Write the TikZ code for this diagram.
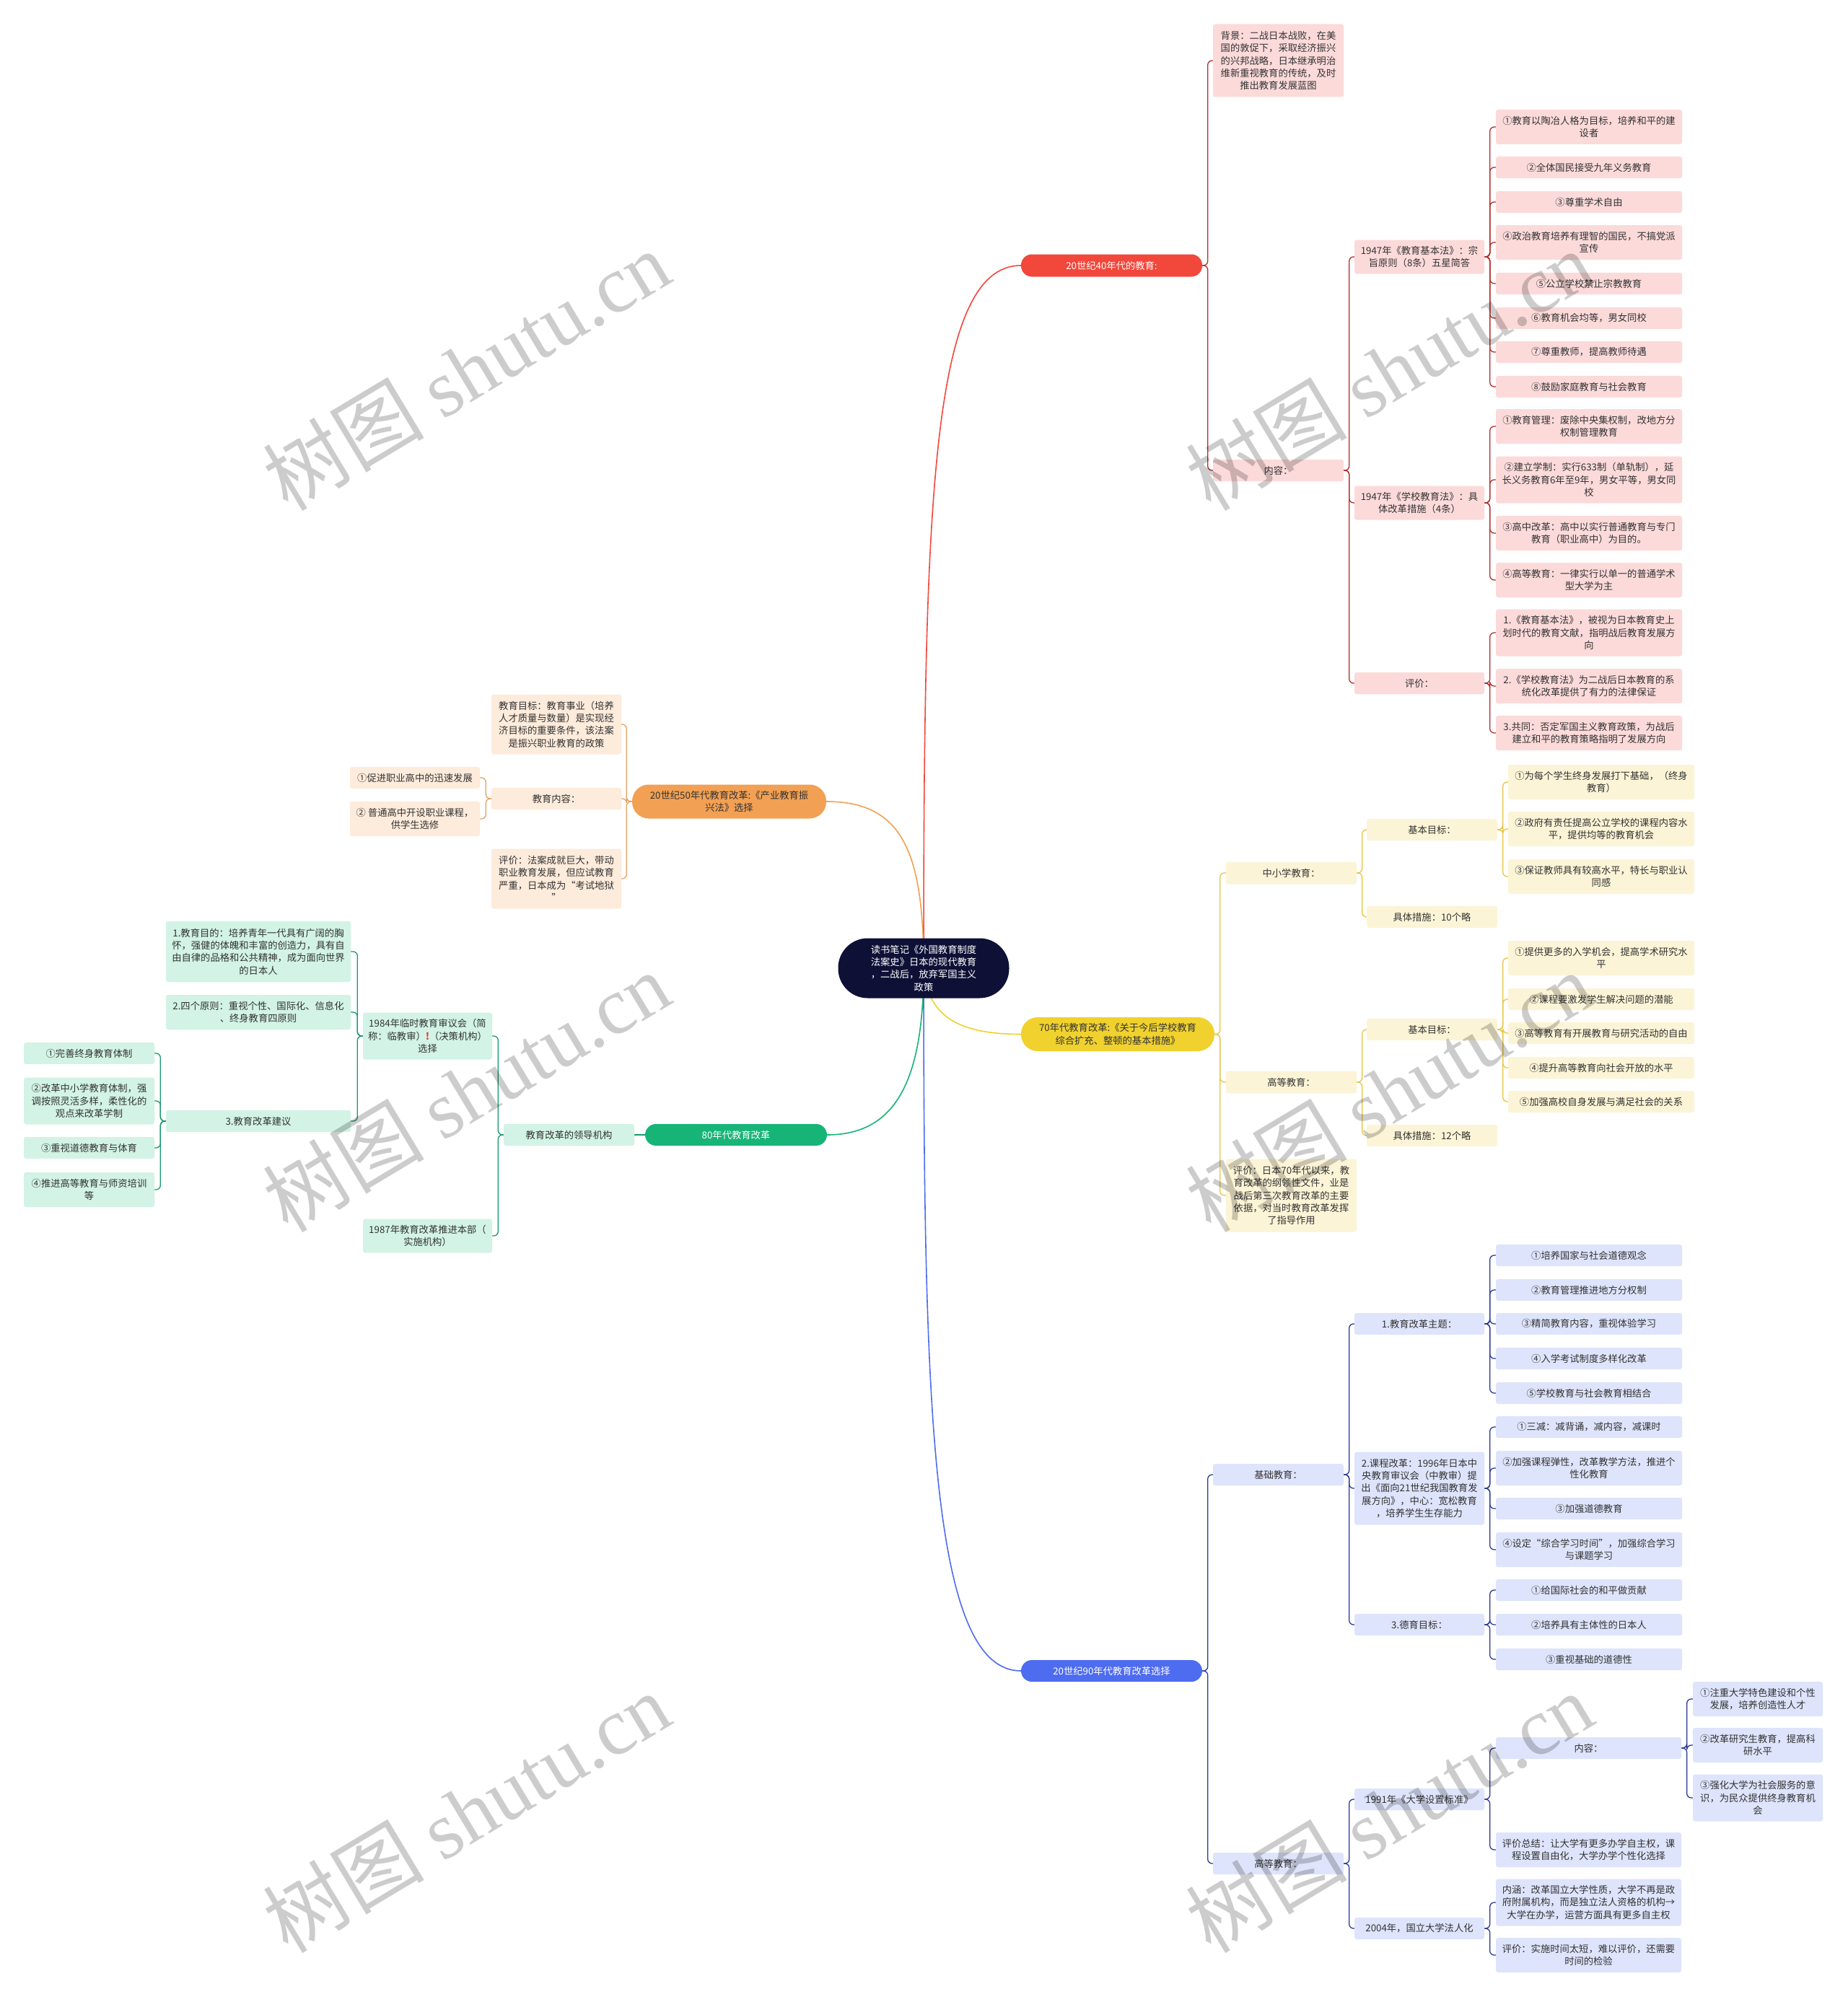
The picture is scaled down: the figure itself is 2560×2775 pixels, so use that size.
\documentclass[tikz,border=0pt]{standalone}
\usepackage{fontspec}
\setmainfont{Noto Sans CJK SC}
\newfontfamily\wmserif{Liberation Serif}
\usetikzlibrary{calc}
\definecolor{cRed}{HTML}{F2473B}
\definecolor{cRedF}{HTML}{FCDADA}
\definecolor{cRedL}{HTML}{B0302C}
\definecolor{cYel}{HTML}{F0D12E}
\definecolor{cYelF}{HTML}{FCF4D6}
\definecolor{cYelL}{HTML}{E8C440}
\definecolor{cBlu}{HTML}{4E6CF0}
\definecolor{cBluF}{HTML}{DEE4FB}
\definecolor{cBluL}{HTML}{2B3A96}
\definecolor{cOra}{HTML}{F2A053}
\definecolor{cOraF}{HTML}{FDEBDB}
\definecolor{cOraL}{HTML}{E3A262}
\definecolor{cGre}{HTML}{17B478}
\definecolor{cGreF}{HTML}{D2F3E6}
\definecolor{cGreL}{HTML}{169A6E}
\definecolor{cNavy}{HTML}{0E1036}
\definecolor{txt}{HTML}{333333}
\definecolor{exc}{HTML}{E53935}
\newcommand\fsz{\fontsize{13.3pt}{17.3pt}\selectfont}
\newcommand\mkn[7]{\node[#1,minimum width=#5pt,minimum height=#6pt] (#2) at (#3,#4) {#7};}
\newcommand\rcon[3]{\draw[#1] (#2.east) -- ++(7.5,0) |- (#3.west);}
\newcommand\lcon[3]{\draw[#1] (#2.west) -- ++(-7.5,0) |- (#3.east);}
\pgfdeclarelayer{back}
\pgfdeclarelayer{bg}
\pgfsetlayers{back,bg,main}
\tikzset{
  bx/.style={rectangle, rounded corners=3pt, inner sep=0pt, align=center, font=\fsz, text=txt},
  rb/.style={bx, fill=cRedF},
  yb/.style={bx, fill=cYelF},
  bb/.style={bx, fill=cBluF},
  ob/.style={bx, fill=cOraF},
  gb/.style={bx, fill=cGreF},
  mn/.style={rectangle, inner sep=0pt, align=center, font=\fsz},
  lnk/.style={line width=1.3pt, rounded corners=6pt},
  rl/.style={lnk, draw=cRedL},
  yl/.style={lnk, draw=cYelL},
  bl/.style={lnk, draw=cBluL},
  ol/.style={lnk, draw=cOraL},
  gl/.style={lnk, draw=cGreL},
  mc/.style={line width=1.6pt},
  wm/.style={text=black, opacity=0.2, font=\fontsize{112pt}{112pt}\selectfont, inner sep=0pt, rotate=31}
}
\begin{document}
\begin{tikzpicture}[x=1pt,y=-1pt]
\useasboundingbox (0,0) rectangle (2560,2775);
\begin{pgfonlayer}{back}
\fill[white] (0,0) rectangle (2560,2775);
\end{pgfonlayer}
% centre
\coordinate (c0) at (1280,1342);
\node[mn, fill=cNavy, text=white, rounded corners=41pt, minimum width=237pt, minimum height=83pt] (ctr) at (1280,1342) {读书笔记《外国教育制度\\法案史》日本的现代教育\\，二战后，放弃军国主义\\政策};
% ================= 40s (red)
\mkn{mn,fill=cRed,text=white,rounded corners=15pt}{m40}{1540.5}{368}{251}{31}{20世纪40年代的教育:}
\mkn{rb}{bg}{1771.5}{84}{181}{101}{背景：二战日本战败，在美\\国的敦促下，采取经济振兴\\的兴邦战略，日本继承明治\\维新重视教育的传统，及时\\推出教育发展蓝图}
\mkn{rb}{nr}{1771.5}{652}{181}{30}{内容：}
\mkn{rb}{jb}{1967}{356}{180}{47}{1947年《教育基本法》：宗\\旨原则（8条）五星简答}
\mkn{rb}{xx}{1967}{697}{180}{47}{1947年《学校教育法》：具\\体改革措施（4条）}
\mkn{rb}{pj}{1967}{947}{180}{30}{评价：}
\mkn{rb}{r1}{2202}{176}{258}{48}{①教育以陶冶人格为目标，培养和平的建\\设者}
\mkn{rb}{r2}{2202}{232}{258}{30}{②全体国民接受九年义务教育}
\mkn{rb}{r3}{2202}{280}{258}{30}{③尊重学术自由}
\mkn{rb}{r4}{2202}{336}{258}{48}{④政治教育培养有理智的国民，不搞党派\\宣传}
\mkn{rb}{r5}{2202}{393}{258}{30}{⑤公立学校禁止宗教教育}
\mkn{rb}{r6}{2202}{441}{258}{30}{⑥教育机会均等，男女同校}
\mkn{rb}{r7}{2202}{488}{258}{30}{⑦尊重教师，提高教师待遇}
\mkn{rb}{r8}{2202}{536}{258}{30}{⑧鼓励家庭教育与社会教育}
\mkn{rb}{s1}{2202}{591}{258}{48}{①教育管理：废除中央集权制，改地方分\\权制管理教育}
\mkn{rb}{s2}{2202}{665}{258}{65}{②建立学制：实行633制（单轨制），延\\长义务教育6年至9年，男女平等，男女同\\校}
\mkn{rb}{s3}{2202}{739}{258}{48}{③高中改革：高中以实行普通教育与专门\\教育（职业高中）为目的。}
\mkn{rb}{s4}{2202}{804}{258}{48}{④高等教育：一律实行以单一的普通学术\\型大学为主}
\mkn{rb}{p1}{2202}{877}{258}{65}{1.《教育基本法》，被视为日本教育史上\\划时代的教育文献，指明战后教育发展方\\向}
\mkn{rb}{p2}{2202}{951}{258}{48}{2.《学校教育法》为二战后日本教育的系\\统化改革提供了有力的法律保证}
\mkn{rb}{p3}{2202}{1016}{258}{48}{3.共同：否定军国主义教育政策，为战后\\建立和平的教育策略指明了发展方向}
% ================= 70s (yellow)
\mkn{mn,fill=cYel,text=txt,rounded corners=23pt}{m70}{1549}{1433.5}{268}{47}{70年代教育改革:《关于今后学校教育\\综合扩充、整顿的基本措施》}
\mkn{yb}{zx}{1789.5}{1210}{181}{31}{中小学教育：}
\mkn{yb}{mb1}{1984.5}{1150}{181}{30}{基本目标：}
\mkn{yb}{cs1}{1984.5}{1271}{181}{30}{具体措施：10个略}
\mkn{yb}{y1}{2219}{1084}{258}{48}{①为每个学生终身发展打下基础，（终身\\教育）}
\mkn{yb}{y2}{2219}{1149}{258}{48}{②政府有责任提高公立学校的课程内容水\\平，提供均等的教育机会}
\mkn{yb}{y3}{2219}{1215}{258}{48}{③保证教师具有较高水平，特长与职业认\\同感}
\mkn{yb}{gd}{1789.5}{1500}{181}{31}{高等教育：}
\mkn{yb}{mb2}{1984.5}{1427}{181}{30}{基本目标：}
\mkn{yb}{cs2}{1984.5}{1574}{181}{30}{具体措施：12个略}
\mkn{yb}{z1}{2219}{1328}{258}{48}{①提供更多的入学机会，提高学术研究水\\平}
\mkn{yb}{z2}{2219}{1385}{258}{30}{②课程要激发学生解决问题的潜能}
\mkn{yb}{z3}{2219}{1432}{258}{30}{③高等教育有开展教育与研究活动的自由}
\mkn{yb}{z4}{2219}{1480}{258}{30}{④提升高等教育向社会开放的水平}
\mkn{yb}{z5}{2219}{1527}{258}{30}{⑤加强高校自身发展与满足社会的关系}
\mkn{yb}{pj70}{1789.5}{1657}{181}{101}{评价：日本70年代以来，教\\育改革的纲领性文件，业是\\战后第三次教育改革的主要\\依据，对当时教育改革发挥\\了指导作用}
% ================= 90s (blue)
\mkn{mn,fill=cBlu,text=white,rounded corners=15pt}{m90}{1540.5}{2316}{251}{30}{20世纪90年代教育改革选择}
\mkn{bb}{jc}{1771.5}{2044}{181}{30}{基础教育：}
\mkn{bb}{t1}{1967}{1835}{180}{30}{1.教育改革主题：}
\mkn{bb}{t2}{1967}{2063}{180}{101}{2.课程改革：1996年日本中\\央教育审议会（中教审）提\\出《面向21世纪我国教育发\\展方向》，中心：宽松教育\\，培养学生生存能力}
\mkn{bb}{t3}{1967}{2252}{180}{30}{3.德育目标：}
\mkn{bb}{b1}{2202}{1740}{258}{30}{①培养国家与社会道德观念}
\mkn{bb}{b2}{2202}{1788}{258}{30}{②教育管理推进地方分权制}
\mkn{bb}{b3}{2202}{1835}{258}{30}{③精简教育内容，重视体验学习}
\mkn{bb}{b4}{2202}{1883}{258}{30}{④入学考试制度多样化改革}
\mkn{bb}{b5}{2202}{1931}{258}{30}{⑤学校教育与社会教育相结合}
\mkn{bb}{k1}{2202}{1978}{258}{30}{①三减：减背诵，减内容，减课时}
\mkn{bb}{k2}{2202}{2035}{258}{48}{②加强课程弹性，改革教学方法，推进个\\性化教育}
\mkn{bb}{k3}{2202}{2091}{258}{30}{③加强道德教育}
\mkn{bb}{k4}{2202}{2148}{258}{48}{④设定“综合学习时间”，加强综合学习\\与课题学习}
\mkn{bb}{d1}{2202}{2204}{258}{30}{①给国际社会的和平做贡献}
\mkn{bb}{d2}{2202}{2252}{258}{30}{②培养具有主体性的日本人}
\mkn{bb}{d3}{2202}{2300}{258}{30}{③重视基础的道德性}
\mkn{bb}{gd90}{1771.5}{2583}{181}{30}{高等教育：}
\mkn{bb}{u91}{1967}{2494}{180}{30}{1991年《大学设置标准》}
\mkn{bb}{u04}{1967}{2673}{180}{30}{2004年，国立大学法人化}
\mkn{bb}{nr91}{2201.5}{2423}{257}{30}{内容：}
\mkn{bb}{pz}{2201.5}{2564}{257}{48}{评价总结：让大学有更多办学自主权，课\\程设置自由化，大学办学个性化选择}
\mkn{bb}{nh}{2201.5}{2637}{257}{65}{内涵：改革国立大学性质，大学不再是政\\府附属机构，而是独立法人资格的机构→\\大学在办学，运营方面具有更多自主权}
\mkn{bb}{pj04}{2201.5}{2710}{257}{48}{评价：实施时间太短，难以评价，还需要\\时间的检验}
\mkn{bb}{e1}{2436}{2355}{180}{48}{①注重大学特色建设和个性\\发展，培养创造性人才}
\mkn{bb}{e2}{2436}{2419}{180}{48}{②改革研究生教育，提高科\\研水平}
\mkn{bb}{e3}{2436}{2492}{180}{65}{③强化大学为社会服务的意\\识，为民众提供终身教育机\\会}
% ================= 50s (orange)
\mkn{mn,fill=cOra,text=txt,rounded corners=23pt}{m50}{1010.5}{1111}{269}{47}{20世纪50年代教育改革:《产业教育振\\兴法》选择}
\mkn{ob}{mb}{771}{1004}{180}{83}{教育目标：教育事业（培养\\人才质量与数量）是实现经\\济目标的重要条件，该法案\\是振兴职业教育的政策}
\mkn{ob}{nr50}{771}{1107}{180}{30}{教育内容：}
\mkn{ob}{pj50}{771}{1218}{180}{83}{评价：法案成就巨大，带动\\职业教育发展，但应试教育\\严重，日本成为“考试地狱\\”}
\mkn{ob}{oc1}{575}{1078}{180}{30}{①促进职业高中的迅速发展}
\mkn{ob}{oc2}{575}{1135}{180}{48}{② 普通高中开设职业课程，\\供学生选修}
% ================= 80s (green)
\mkn{mn,fill=cGre,text=white,rounded corners=15pt}{m80}{1020}{1573}{252}{30}{80年代教育改革}
\mkn{gb}{ld}{788.5}{1573}{181}{30}{教育改革的领导机构}
\mkn{gb}{y84}{592.5}{1436}{179}{65}{1984年临时教育审议会（简\\称：临教审）\textcolor{exc}{\bfseries !}（决策机构）\\选择}
\mkn{gb}{y87}{592.5}{1713}{179}{47}{1987年教育改革推进本部（\\实施机构）}
\mkn{gb}{g1}{358}{1319}{256}{84}{1.教育目的：培养青年一代具有广阔的胸\\怀，强健的体魄和丰富的创造力，具有自\\由自律的品格和公共精神，成为面向世界\\的日本人}
\mkn{gb}{g2}{358}{1403}{256}{48}{2.四个原则：重视个性、国际化、信息化\\、终身教育四原则}
\mkn{gb}{g3}{358}{1554}{256}{30}{3.教育改革建议}
\mkn{gb}{h1}{123.5}{1460}{181}{30}{①完善终身教育体制}
\mkn{gb}{h2}{123.5}{1526}{181}{65}{②改革中小学教育体制，强\\调按照灵活多样，柔性化的\\观点来改革学制}
\mkn{gb}{h3}{123.5}{1591}{181}{30}{③重视道德教育与体育}
\mkn{gb}{h4}{123.5}{1649}{181}{48}{④推进高等教育与师资培训\\等}
% ================= connectors
\begin{pgfonlayer}{bg}
\draw[mc, draw=cRed] (c0) .. controls (1280,700) and (1290,368) .. (m40.west);
\draw[mc, draw=cYel] (c0) .. controls (1285,1410) and (1330,1433.5) .. (m70.west);
\draw[mc, draw=cBlu] (c0) .. controls (1280,1950) and (1290,2316) .. (m90.west);
\draw[mc, draw=cOra] (c0) .. controls (1280,1180) and (1250,1111) .. (m50.east);
\draw[mc, draw=cGre] (c0) .. controls (1280,1500) and (1240,1573) .. (m80.east);
% red
\rcon{rl}{m40}{bg} \rcon{rl}{m40}{nr}
\rcon{rl}{nr}{jb} \rcon{rl}{nr}{xx} \rcon{rl}{nr}{pj}
\foreach \c in {r1,r2,r3,r4,r5,r6,r7,r8} {\rcon{rl}{jb}{\c}}
\foreach \c in {s1,s2,s3,s4} {\rcon{rl}{xx}{\c}}
\foreach \c in {p1,p2,p3} {\rcon{rl}{pj}{\c}}
% yellow
\rcon{yl}{m70}{zx} \rcon{yl}{m70}{gd} \rcon{yl}{m70}{pj70}
\rcon{yl}{zx}{mb1} \rcon{yl}{zx}{cs1}
\foreach \c in {y1,y2,y3} {\rcon{yl}{mb1}{\c}}
\rcon{yl}{gd}{mb2} \rcon{yl}{gd}{cs2}
\foreach \c in {z1,z2,z3,z4,z5} {\rcon{yl}{mb2}{\c}}
% blue
\rcon{bl}{m90}{jc} \rcon{bl}{m90}{gd90}
\rcon{bl}{jc}{t1} \rcon{bl}{jc}{t2} \rcon{bl}{jc}{t3}
\foreach \c in {b1,b2,b3,b4,b5} {\rcon{bl}{t1}{\c}}
\foreach \c in {k1,k2,k3,k4} {\rcon{bl}{t2}{\c}}
\foreach \c in {d1,d2,d3} {\rcon{bl}{t3}{\c}}
\rcon{bl}{gd90}{u91} \rcon{bl}{gd90}{u04}
\rcon{bl}{u91}{nr91} \rcon{bl}{u91}{pz}
\foreach \c in {e1,e2,e3} {\rcon{bl}{nr91}{\c}}
\rcon{bl}{u04}{nh} \rcon{bl}{u04}{pj04}
% orange
\lcon{ol}{m50}{mb} \lcon{ol}{m50}{nr50} \lcon{ol}{m50}{pj50}
\lcon{ol}{nr50}{oc1} \lcon{ol}{nr50}{oc2}
% green
\draw[gl] (m80.west) -- (ld.east);
\lcon{gl}{ld}{y84} \lcon{gl}{ld}{y87}
\lcon{gl}{y84}{g1} \lcon{gl}{y84}{g2} \lcon{gl}{y84}{g3}
\foreach \c in {h1,h2,h3,h4} {\lcon{gl}{g3}{\c}}
\end{pgfonlayer}
% ================= watermarks
\foreach \wx/\wy [count=\i] in {646/513, 646/1513, 646/2512, 1925/513, 1925/1513, 1925/2512} {
  \node[wm] (wm\i) at (\wx,\wy) {树图 {\wmserif shutu.cn}};
}
\end{tikzpicture}
\end{document}
